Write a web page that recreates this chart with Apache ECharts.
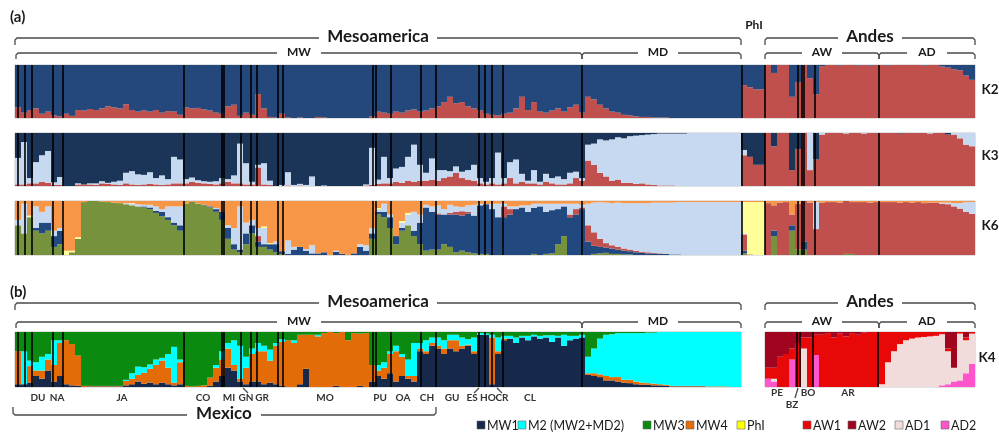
<!DOCTYPE html>
<html>
<head>
<meta charset="utf-8">
<script src="https://cdn.jsdelivr.net/npm/echarts@6/dist/echarts.min.js"></script>
<style>
html, body { margin: 0; padding: 0; background: #fff; }
#chart { width: 999px; height: 433px; }
</style>
</head>
<body>
<div id="chart"></div>
<script>
// ancestry (%) per individual, 6 px per bar; panel (a) 160 bars: MW 0-94, MD 95-120, PhI 121-124, AW 125-143, AD 144-159
var k2Red = [20,10,15,18,8,12,5,3,8,4, 15,14,17,15,18,22,20,18,26,15, 12,14,12,15,10,13,12,6,20,18,
    19,16,14,10,8,22,25,4,10,6, 45,18,2,1,8,1,0,1,0,0, 2,1,0,0,0,0,0,0,0,3,
    12,10,8,12,10,14,16,12,14,18, 22,30,40,28,30,22,18,14,8,6, 5,8,10,18,40,15,30,12,10,14,
    18,12,20,25,10,40,35,25,18,12, 10,6,5,3,2,2,1,1,1,0, 0,0,0,0,0,0,0,0,0,0,
    0,62,58,54,54,100,85,100,100,40, 68,100,75,45,98,100,100,99,100,100, 99,100,99,100,100,99,100,100,100,100,
    100,99,100,100,97,95,92,90,80,72];

var k3Red = [3,3,5,5,8,6,2,2,0,0, 3,3,3,2,5,4,3,2,5,3, 2,3,4,3,2,3,5,5,5,8,
    6,5,4,3,5,8,5,5,3,3, 35,3,2,0,0,1,0,1,0,0, 0,0,0,0,0,0,0,0,1,2,
    4,5,5,8,6,10,8,10,10,12, 10,15,18,25,15,12,10,5,3,5, 3,5,15,5,8,5,5,3,8,5,
    3,3,5,15,10,48,40,25,18,10, 12,6,6,4,5,3,2,1,1,1, 0,0,0,0,0,0,0,0,0,0,
    0,58,55,40,40,100,75,100,100,30, 70,100,30,50,97,100,100,100,99,100, 100,99,100,100,100,100,100,99,100,100,
    100,100,99,100,100,97,97,90,78,75];
var k3Light = [50,80,10,40,50,60,5,15,0,0, 2,0,2,3,4,2,5,8,20,25, 20,18,22,12,18,10,50,45,8,8,
    5,4,4,6,10,5,15,75,40,5, 5,40,8,0,2,25,2,3,2,18, 0,1,0,0,0,0,0,0,2,70,
    8,50,10,25,30,45,70,30,15,40, 20,15,10,12,12,18,30,10,5,10, 60,10,30,45,15,5,25,5,15,10,
    15,10,20,12,5,30,40,63,68,78, 80,84,88,91,91,94,96,98,98,98, 99,99,100,100,100,100,100,100,100,100,
    100,10,0,0,0,0,0,0,0,0, 0,0,70,0,3,0,0,0,1,0, 0,1,0,0,0,0,0,0,0,0,
    0,0,1,0,0,0,3,10,22,25];

var k6Green = [55,40,70,45,40,45,15,20,0,5, 30,98,100,100,99,98,97,96,94,92, 90,88,85,78,72,65,55,45,95,99,
    95,92,88,80,65,30,10,5,20,40, 15,15,10,5,2,0,0,0,0,0, 0,0,0,0,0,0,0,0,0,30,
    75,70,50,20,45,55,35,20,8,10, 10,20,15,5,8,5,3,2,2,0, 0,0,0,0,0,0,2,0,2,3,
    20,35,0,0,0,0,2,3,4,2, 2,1,1,0,0,0,0,0,0,0, 0,0,0,0,0,0,0,0,0,0,
    0,3,0,0,0,0,35,0,0,45, 10,10,0,0,0,0,0,0,2,2, 0,0,0,0,0,0,0,0,0,0,
    0,0,0,0,0,0,0,0,0,0];
var k6Navy = [0,0,0,5,20,15,20,25,0,0, 0,0,0,0,0,0,0,0,0,0, 0,2,3,4,8,5,5,10,0,0,
    0,1,2,5,15,20,10,5,20,15, 10,5,10,15,5,2,10,15,8,3, 3,5,0,6,2,0,3,15,8,10,
    5,10,20,15,5,0,10,40,80,70, 65,55,60,70,65,72,70,90,92,85, 70,70,75,85,88,80,85,90,78,80,
    65,55,70,75,85,25,15,12,10,10, 8,7,6,5,4,3,3,2,2,1, 1,0,0,0,0,0,0,0,0,0,
    0,5,0,0,0,0,10,0,0,10, 0,15,0,0,0,0,0,0,0,0, 0,0,0,0,0,0,0,0,0,0,
    0,0,0,0,0,0,0,0,0,0];
var k6Red = [0,0,0,0,0,0,0,0,0,0, 0,0,0,0,0,0,0,0,0,0, 0,0,0,0,0,0,0,0,0,0,
    0,0,0,0,0,0,0,0,0,0, 10,0,0,0,0,0,0,0,0,0, 0,0,0,0,0,0,0,0,0,0,
    0,0,0,0,0,0,0,0,0,0, 2,0,3,5,8,3,0,0,0,0, 0,20,10,0,0,0,0,0,0,0,
    0,0,5,10,3,30,25,15,8,6, 5,4,3,3,2,2,1,1,0,0, 0,0,0,0,0,0,0,0,0,0,
    0,30,1,0,0,96,47,97,98,20, 85,75,97,48,97,98,98,97,98,96, 98,98,97,98,98,98,98,97,98,97,
    98,96,97,97,95,94,90,86,80,76];
var k6Light = [10,55,0,40,20,30,10,5,0,0, 0,0,0,0,0,0,0,0,2,3, 4,3,5,8,5,20,30,35,0,0,
    0,0,0,2,0,5,30,80,20,10, 15,30,0,5,0,25,5,0,3,15, 0,0,0,2,0,0,0,5,10,10,
    5,15,5,0,10,20,35,15,5,10, 15,10,15,10,8,12,20,3,0,10, 25,5,5,5,4,12,8,5,15,12,
    10,5,20,10,5,40,55,68,75,78, 82,84,86,88,90,91,93,94,95,96, 97,98,98,98,98,98,98,98,98,98,
    98,2,0,0,0,0,0,0,0,0, 0,0,0,50,0,0,0,0,0,0, 0,0,0,0,0,0,0,0,0,0,
    0,0,0,0,2,3,6,10,18,22];
var k6Yellow = [0,0,3,0,0,0,0,0,8,3, 3,0,0,0,0,0,0,0,0,1, 0,0,0,0,0,0,0,0,0,0,
    0,0,0,0,0,0,0,0,0,0, 0,3,2,0,0,0,0,0,0,0, 0,0,0,0,0,0,0,0,0,0,
    2,0,0,0,3,3,0,0,0,0, 0,0,0,0,0,0,0,0,0,0, 0,0,0,0,0,0,0,0,0,0,
    0,0,0,0,0,0,0,0,0,0, 0,0,0,0,0,0,0,0,0,0, 0,0,0,0,0,0,0,0,0,0,
    0,58,97,98,98,0,0,0,0,0, 0,0,0,0,0,0,0,0,0,0, 0,0,0,0,0,0,0,0,0,0,
    0,0,0,0,0,0,0,0,0,0];

// panel (b) Mesoamerica, 121 bars (MW 0-94, MD 95-120)
var k4Navy = [5,5,8,20,15,30,10,20,5,3, 2,0,1,1,1,1,1,1,3,5, 10,6,8,5,8,5,3,5,0,0,
    0,0,2,10,20,35,30,10,5,10, 10,5,8,5,2,0,0,5,33,0, 0,0,0,2,0,0,0,2,0,10,
    20,15,25,10,20,15,10,65,60,75, 70,60,70,65,70,75,60,95,95,5, 60,85,88,80,90,85,92,88,90,82,
    90,75,85,88,90,22,20,18,12,12, 10,8,7,5,4,4,3,3,2,1, 1,1,1,1,1,0,0,0,0,0, 0];
var k4Orange = [60,0,30,10,15,20,30,60,80,75, 55,2,1,1,1,1,1,1,8,10, 12,20,25,35,40,30,5,40,2,1,
    2,3,15,25,30,35,10,5,30,50, 55,60,40,70,80,85,80,90,62,95, 92,98,100,96,100,85,98,95,98,30,
    10,20,35,55,35,5,10,5,5,5, 5,10,15,20,5,2,5,0,0,85, 5,3,0,0,0,0,0,0,0,0,
    0,0,0,0,0,3,5,5,8,6, 8,5,6,5,4,3,3,2,2,1, 1,1,1,1,1,1,1,1,1,0, 0];
var k4Cyan = [0,60,10,15,25,10,45,5,0,0, 0,0,0,0,0,0,0,0,2,10, 15,10,8,10,5,25,65,5,0,0,
    0,0,0,5,15,10,45,60,20,10, 15,10,20,5,5,0,5,0,0,0, 3,0,0,0,0,0,0,0,0,0,
    10,10,5,10,5,30,60,10,20,10, 15,15,10,10,15,10,25,3,2,5, 25,5,5,10,3,8,3,5,4,12,
    3,20,8,5,5,30,45,65,75,78, 80,85,85,88,90,92,93,95,96,98, 98,98,98,98,98,99,99,99,99,100, 100];

// panel (b) Andes, 35 bars (AW 0-18, AD 19-34)
var k4Ad2 = [15,10,0,0,50,0,0,0,58,0, 0,0,0,0,0,0,0,0,0,0, 0,0,0,0,0,0,0,0,0,3, 5,10,12,25,42];
var k4Ad1 = [0,5,0,0,0,0,70,0,0,0, 0,0,0,0,0,0,0,0,0,5, 45,65,78,85,88,90,91,92,93,93, 60,25,85,60,55];
var k4Aw2 = [65,65,45,40,30,20,10,10,5,5, 2,10,3,8,2,5,1,0,0,0, 0,0,0,0,0,0,0,0,0,0, 30,65,0,10,0];

// population boundaries, in individual units
var sepMeso = [0.5, 1.7, 2.8, 6.3, 8, 28.2, 34.5, 34.8, 37.7, 39.3, 40.3, 43.8, 44.7, 59.7, 60.2, 62.7,
    67.7, 70.2, 77.3, 78.3, 79.5, 81.3, 94.5];
var sepA = sepMeso.concat([121.2, 125, 130.5, 131.2, 131.5, 133.3, 144]);
var sepAndesB = [5.3, 5.8, 8, 18.8];

var popNames = ['DU', 'NA', 'JA', 'CO', 'MI', 'GN', 'GR', 'MO', 'PU', 'OA', 'CH', 'GU', 'ES', 'HO', 'CR', 'CL'];
var andesPopNames = ['PE', 'BZ', 'BO', 'AR'];
var legendNames = ['MW1', 'M2 (MW2+MD2)', 'MW3', 'MW4', 'PhI', 'AW1', 'AW2', 'AD1', 'AD2'];

// remainder so each bar sums to 100
function rest(arrs) {
    return arrs[0].map(function (v, i) {
        var s = 0;
        arrs.forEach(function (a) { s += a[i]; });
        return Math.max(0, 100 - s);
    });
}

var grids = [], xAxes = [], yAxes = [], series = [];

function addPanel(box, layers, seps) {
    var g = grids.length;
    var n = layers[0].data.length;
    var cats = [];
    for (var i = 0; i < n; i++) cats.push(i);
    grids.push({left: box[0], top: box[1], width: box[2], height: box[3], show: true,
        borderColor: '#c4c4c4', borderWidth: 1});
    var xc = xAxes.length;
    xAxes.push({type: 'category', gridIndex: g, data: cats, show: false});
    xAxes.push({type: 'value', gridIndex: g, min: 0, max: n, show: false});
    var yi = yAxes.length;
    yAxes.push({type: 'value', gridIndex: g, min: 0, max: 100, show: false});
    layers.forEach(function (l) {
        series.push({type: 'bar', xAxisIndex: xc, yAxisIndex: yi, stack: 'p' + g, data: l.data,
            barCategoryGap: '0%', itemStyle: {color: l.color}, silent: true});
    });
    series.push({type: 'line', xAxisIndex: xc + 1, yAxisIndex: yi, data: [[0, 0]], showSymbol: false,
        lineStyle: {opacity: 0}, silent: true,
        markLine: {symbol: 'none', silent: true, label: {show: false}, animation: false,
            lineStyle: {color: '#000', width: 1.6, type: 'solid'},
            data: seps.map(function (s) { return {xAxis: s}; })}});
}

var RED = '#c0504d', LIGHT = '#c6d9f1';

addPanel([15, 65, 960, 53], [
    {data: k2Red, color: RED},
    {data: rest([k2Red]), color: '#24487c'}
], sepA);

addPanel([15, 133, 960, 53], [
    {data: k3Red, color: RED},
    {data: k3Light, color: LIGHT},
    {data: rest([k3Red, k3Light]), color: '#1b3559'}
], sepA);

addPanel([15, 201, 960, 54], [
    {data: k6Green, color: '#76923c'},
    {data: k6Navy, color: '#22497f'},
    {data: k6Red, color: RED},
    {data: k6Light, color: LIGHT},
    {data: k6Yellow, color: '#ffff99'},
    {data: rest([k6Green, k6Navy, k6Red, k6Light, k6Yellow]), color: '#f79646'}
], sepA);

addPanel([15, 332, 726, 55], [
    {data: k4Navy, color: '#16294a'},
    {data: k4Orange, color: '#e36c09'},
    {data: k4Cyan, color: '#00ffff'},
    {data: rest([k4Navy, k4Orange, k4Cyan]), color: '#0b8a10'}
], sepMeso);

addPanel([765, 332, 210, 55], [
    {data: k4Ad2, color: '#ff55cc'},
    {data: k4Ad1, color: '#f2dcdb'},
    {data: rest([k4Ad2, k4Ad1, k4Aw2]), color: '#e80808'},
    {data: k4Aw2, color: '#a0041e'}
], sepAndesB);

// annotations
var FONT = 'Lato, "Open Sans", sans-serif';
var els = [];

function txt(t, x, y, size, weight, align, color) {
    els.push({type: 'text', silent: true, x: x, y: y, style: {
        text: t, fill: color || '#1a1a1a',
        font: (weight || 'bold') + ' ' + size + 'px ' + FONT,
        align: align || 'center', verticalAlign: 'middle',
        textAlign: align || 'center', textVerticalAlign: 'middle'}});
}

function poly(pts) {
    els.push({type: 'polyline', silent: true, shape: {points: pts},
        style: {stroke: '#4a4a4a', lineWidth: 1.3, fill: null}});
}

function bracket(x1, x2, y, half, tick, label, size, cx) {
    cx = cx || (x1 + x2) / 2;
    var s = tick > 0 ? 1 : -1;
    poly([[x1, y + tick], [x1, y + 2 * s], [x1 + 2, y], [cx - half, y]]);
    poly([[cx + half, y], [x2 - 2, y], [x2, y + 2 * s], [x2, y + tick]]);
    txt(label, cx, y - 1, size);
}

txt('(a)', 10, 17, 15, 'bold', 'left');
bracket(15, 741, 38, 59, 7, 'Mesoamerica', 17);
bracket(16, 582, 53, 22, 6, 'MW', 12);
bracket(582, 741, 53, 20, 6, 'MD', 12, 658);
txt('PhI', 754, 25, 12);
bracket(765, 975, 38, 32, 7, 'Andes', 17);
bracket(765, 879, 53, 20, 6, 'AW', 12);
bracket(879, 975, 53, 20, 6, 'AD', 12);
txt('K2', 990, 90, 13.5);
txt('K3', 990, 156, 13.5);
txt('K6', 990, 226, 13.5);

txt('(b)', 10, 292, 15, 'bold', 'left');
bracket(15, 741, 303, 59, 7, 'Mesoamerica', 17);
bracket(16, 582, 322, 22, 6, 'MW', 12);
bracket(582, 741, 322, 20, 6, 'MD', 12, 658);
bracket(765, 975, 303, 32, 7, 'Andes', 17);
bracket(765, 879, 322, 20, 6, 'AW', 12);
bracket(879, 975, 322, 20, 6, 'AD', 12);
txt('K4', 987, 358, 13.5);

var popX = [38, 57, 122, 203, 229, 246, 262, 325, 380, 403, 427, 452, 472, 488, 502, 530];
popNames.forEach(function (p, i) { txt(p, popX[i], 398, 10, 'bold', 'center', '#333'); });
var andesX = [777, 792, 808, 848], andesY = [393, 405, 393, 393];
andesPopNames.forEach(function (p, i) { txt(p, andesX[i], andesY[i], 10, 'bold', 'center', '#333'); });
poly([[243, 388], [248, 393]]);
poly([[479, 388], [474, 393]]);
poly([[497, 388], [502, 393]]);
poly([[798, 388], [795, 398]]);
bracket(13, 436, 415, 37, -8, 'Mexico', 17, 224);

var legendColors = ['#16294a', '#00ffff', '#0b8a10', '#e36c09', '#ffff00', '#e80808', '#a0041e', '#f2dcdb', '#ff55cc'];
var legendX = [477, 518, 643, 686, 737, 803, 848, 895, 941];
legendNames.forEach(function (name, i) {
    els.push({type: 'rect', silent: true, shape: {x: legendX[i], y: 421, width: 8, height: 8},
        style: {fill: legendColors[i], stroke: '#666', lineWidth: 0.6}});
    txt(name, legendX[i] + 10, 425.5, 12.5, 'normal', 'left', '#1a1a1a');
});

var chart = echarts.init(document.getElementById('chart'), null, {renderer: 'canvas'});
chart.setOption({
    animation: false,
    backgroundColor: '#fff',
    grid: grids,
    xAxis: xAxes,
    yAxis: yAxes,
    series: series,
    graphic: {elements: els}
});
</script>
</body>
</html>
